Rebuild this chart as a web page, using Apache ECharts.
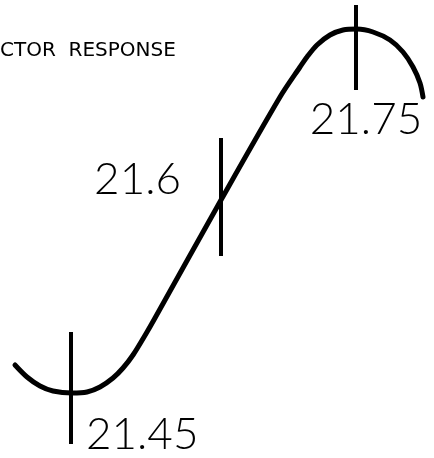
<!DOCTYPE html>
<html>
<head>
<meta charset="utf-8">
<script src="https://cdn.jsdelivr.net/npm/echarts@6/dist/echarts.min.js"></script>
<style>
html,body{margin:0;padding:0;background:#fff;}
#chart{width:434px;height:458px;}
</style>
</head>
<body>
<div id="chart"></div>
<script>
// Response curve (field units, response units)
var curveField = [15, 27, 40, 53, 72, 87, 100, 113, 123, 133, 147, 155, 221, 280, 300, 307, 317, 330, 343, 357, 373, 390, 403, 413, 420, 423];
var curveResp  = [93, 81, 72, 67, 65, 66, 71, 80, 90, 103, 126, 140, 258, 361, 391, 401, 413, 423, 428, 429, 426, 418, 406, 391, 375, 361];

// Tick marks on the curve and their labels
var tickLabels = ['21.45', '21.6', '21.75'];
var tickField  = [71, 221, 356];
var tickLow    = [14, 202, 368];
var tickHigh   = [126, 320, 453];

var titleText = 'CTOR  RESPONSE';

var labelFont = {fontFamily: 'Lato', fontWeight: 300, fontSize: 44, color: '#000'};

var series = [{
  type: 'line',
  data: curveField.map(function (f, i) { return [f, curveResp[i]]; }),
  smooth: 0.3,
  showSymbol: false,
  lineStyle: {color: '#000', width: 5, cap: 'round'},
  silent: true,
  animation: false
}];

var labelCfg = [
  {end: 0, position: 'right', distance: 15, offset: [0, -9]},
  {end: 1, position: 'left', distance: 40, offset: [0, 42]},
  {end: 0, position: 'bottom', distance: 8, offset: [10, 0]}
];

tickField.forEach(function (f, i) {
  var pts = [[f, tickLow[i]], [f, tickHigh[i]]];
  var cfg = labelCfg[i];
  var data = pts.map(function (p, j) {
    var d = {value: p};
    if (j === cfg.end) {
      d.label = Object.assign({
        show: true,
        position: cfg.position,
        distance: cfg.distance,
        offset: cfg.offset,
        formatter: tickLabels[i]
      }, labelFont);
    }
    return d;
  });
  series.push({
    type: 'line',
    data: data,
    symbol: 'circle',
    symbolSize: 0.1,
    showSymbol: true,
    lineStyle: {color: '#000', width: 4},
    itemStyle: {color: '#000'},
    label: {show: false},
    silent: true,
    animation: false
  });
});

var chart = echarts.init(document.getElementById('chart'), null, {renderer: 'canvas'});
chart.setOption({
  backgroundColor: '#fff',
  animation: false,
  title: {
    text: titleText,
    left: 0,
    top: 41,
    padding: 0,
    textStyle: {fontFamily: 'DejaVu Sans', fontWeight: 'normal', fontSize: 20, color: '#000'}
  },
  grid: {left: 0, right: 0, top: 0, bottom: 0},
  xAxis: {type: 'value', min: 0, max: 434, show: false},
  yAxis: {type: 'value', min: 0, max: 458, show: false},
  series: series
});
</script>
</body>
</html>
